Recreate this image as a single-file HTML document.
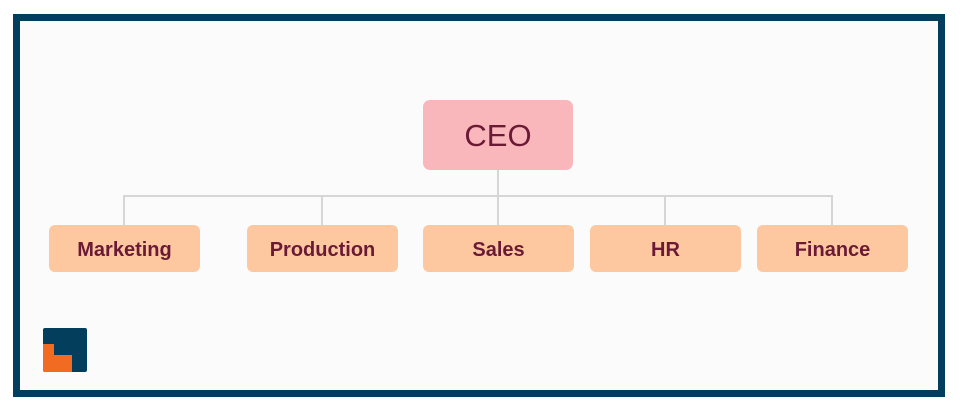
<!DOCTYPE html>
<html><head><meta charset="utf-8"><style>
html,body{margin:0;padding:0;background:#fff;}
body{width:960px;height:410px;position:relative;overflow:hidden;font-family:"Liberation Sans",sans-serif;}
.frame{position:absolute;left:13px;top:14px;width:918px;height:369px;border:7px solid #033f5c;background:#fbfbfb;}
.b{position:absolute;height:47px;width:151px;background:#fdc89f;border-radius:6px;color:#6b1a36;font-size:20px;font-weight:bold;display:flex;align-items:center;justify-content:center;top:225px;padding-top:4px;box-sizing:border-box;}
.ceo{position:absolute;left:423px;top:100px;width:150px;height:70px;background:#f9b6bb;border-radius:7px;color:#6b1a36;font-size:31px;display:flex;align-items:center;justify-content:center;padding-top:2px;box-sizing:border-box;}
.l{position:absolute;background:#d6d6d6;}
</style></head><body>
<div class="frame"></div>
<div class="l" style="left:497px;top:170px;width:2px;height:55px"></div>
<div class="l" style="left:123px;top:195px;width:710px;height:2px"></div>
<div class="l" style="left:123px;top:195px;width:2px;height:30px"></div>
<div class="l" style="left:321px;top:195px;width:2px;height:30px"></div>
<div class="l" style="left:664px;top:195px;width:2px;height:30px"></div>
<div class="l" style="left:831px;top:195px;width:2px;height:30px"></div>
<div class="ceo">CEO</div>
<div class="b" style="left:49px">Marketing</div>
<div class="b" style="left:247px">Production</div>
<div class="b" style="left:423px">Sales</div>
<div class="b" style="left:590px">HR</div>
<div class="b" style="left:757px">Finance</div>
<svg style="position:absolute;left:43px;top:328px" width="44" height="44" viewBox="0 0 44 44">
<rect x="0" y="0" width="44" height="44" rx="2" fill="#033f5c"/>
<path d="M0 16 H11 V27 H29 V44 H2 Q0 44 0 42 Z" fill="#f26b22"/>
</svg>
</body></html>
